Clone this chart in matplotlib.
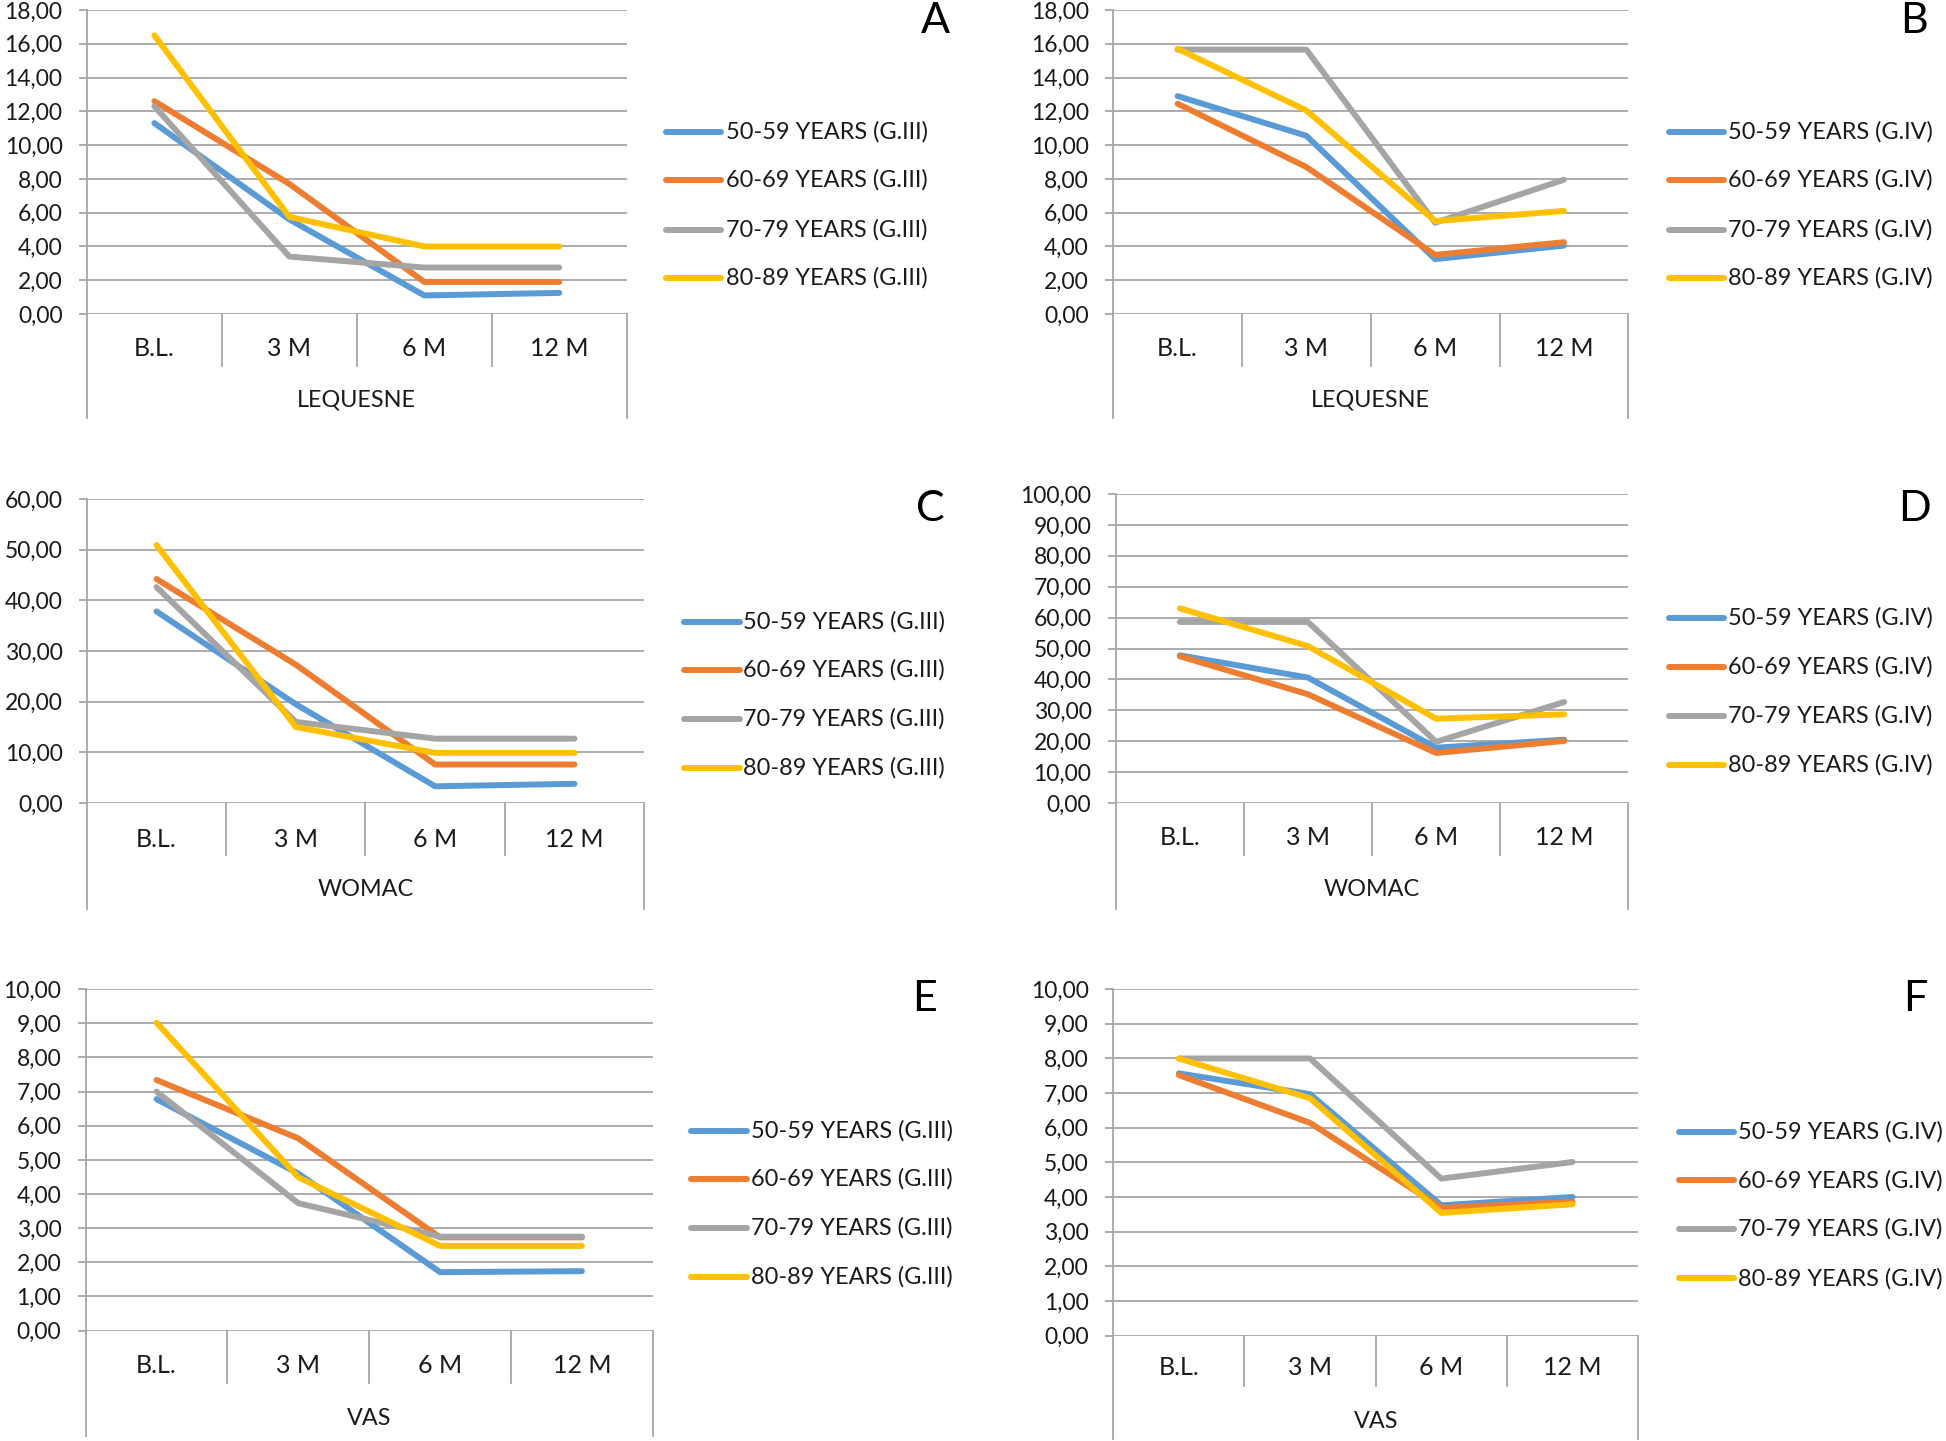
import matplotlib
matplotlib.use("Agg")
import matplotlib.pyplot as plt
from matplotlib.lines import Line2D
from matplotlib.ticker import FuncFormatter, MultipleLocator

plt.rcParams['font.family'] = ['Lato', 'DejaVu Sans']

categories = ["B.L.", "3 M", "6 M", "12 M"]
groups_iii = ["50-59 YEARS (G.III)", "60-69 YEARS (G.III)", "70-79 YEARS (G.III)", "80-89 YEARS (G.III)"]
groups_iv = ["50-59 YEARS (G.IV)", "60-69 YEARS (G.IV)", "70-79 YEARS (G.IV)", "80-89 YEARS (G.IV)"]
colors = ["#5B9BD5", "#ED7D31", "#A5A5A5", "#FFC000"]

# Panel A: LEQUESNE G.III
lequesne_iii_50 = [11.3, 5.6, 1.1, 1.25]
lequesne_iii_60 = [12.6, 7.7, 1.9, 1.9]
lequesne_iii_70 = [12.3, 3.4, 2.75, 2.75]
lequesne_iii_80 = [16.5, 5.75, 4.0, 4.0]
# Panel B: LEQUESNE G.IV
lequesne_iv_50 = [12.9, 10.55, 3.25, 4.05]
lequesne_iv_60 = [12.45, 8.7, 3.5, 4.25]
lequesne_iv_70 = [15.65, 15.65, 5.4, 7.95]
lequesne_iv_80 = [15.7, 12.05, 5.5, 6.1]
# Panel C: WOMAC G.III
womac_iii_50 = [37.8, 19.5, 3.3, 3.8]
womac_iii_60 = [44.2, 27.3, 7.6, 7.6]
womac_iii_70 = [42.6, 16.0, 12.7, 12.7]
womac_iii_80 = [50.9, 15.0, 9.9, 9.9]
# Panel D: WOMAC G.IV
womac_iv_50 = [47.8, 40.6, 17.9, 20.5]
womac_iv_60 = [47.5, 35.2, 16.2, 20.1]
womac_iv_70 = [58.6, 58.6, 19.8, 32.7]
womac_iv_80 = [63.0, 50.8, 27.3, 28.7]
# Panel E: VAS G.III
vas_iii_50 = [6.78, 4.6, 1.71, 1.74]
vas_iii_60 = [7.34, 5.63, 2.73, 2.73]
vas_iii_70 = [7.0, 3.73, 2.75, 2.75]
vas_iii_80 = [9.02, 4.49, 2.48, 2.48]
# Panel F: VAS G.IV
vas_iv_50 = [7.57, 6.97, 3.76, 4.0]
vas_iv_60 = [7.52, 6.14, 3.69, 3.86]
vas_iv_70 = [8.0, 8.0, 4.53, 5.01]
vas_iv_80 = [8.0, 6.85, 3.54, 3.79]

W, H = 1568.0, 1161.0  # layout measured in this pixel space

fig = plt.figure(figsize=(19.46, 14.41), dpi=100)

GRID = "#A6A6A6"
TXT = "#1a1a1a"
TICKFS = 16.5
CATFS = 18
GRPFS = 16.8
LEGFS = 16.9

panels = [
    dict(letter="A", title="LEQUESNE", series=[lequesne_iii_50, lequesne_iii_60, lequesne_iii_70, lequesne_iii_80],
         labels=groups_iii, ymax=18, step=2, L=70, R=505, T=8, B=253, div=295, lab=281, grp=322, out=337,
         leg=(537, 581, 585, [106, 145, 185, 224]), let=(754, 17)),
    dict(letter="B", title="LEQUESNE", series=[lequesne_iv_50, lequesne_iv_60, lequesne_iv_70, lequesne_iv_80],
         labels=groups_iv, ymax=18, step=2, L=897, R=1312, T=8, B=253, div=295, lab=281, grp=322, out=337,
         leg=(1345, 1389, 1392, [106, 145, 185, 224]), let=(1542, 17)),
    dict(letter="C", title="WOMAC", series=[womac_iii_50, womac_iii_60, womac_iii_70, womac_iii_80],
         labels=groups_iii, ymax=60, step=10, L=70, R=519, T=402, B=647, div=689, lab=676, grp=717, out=732,
         leg=(551, 596, 599, [501, 540, 579, 619]), let=(750, 410)),
    dict(letter="D", title="WOMAC", series=[womac_iv_50, womac_iv_60, womac_iv_70, womac_iv_80],
         labels=groups_iv, ymax=100, step=10, L=899, R=1312, T=398, B=647, div=689, lab=675, grp=717, out=732,
         leg=(1345, 1389, 1392, [498, 537, 577, 616]), let=(1543, 410)),
    dict(letter="E", title="VAS", series=[vas_iii_50, vas_iii_60, vas_iii_70, vas_iii_80],
         labels=groups_iii, ymax=10, step=1, L=69, R=526, T=797, B=1072, div=1114, lab=1100, grp=1143, out=1157,
         leg=(557, 602, 605, [911, 950, 989, 1029]), let=(745, 805)),
    dict(letter="F", title="VAS", series=[vas_iv_50, vas_iv_60, vas_iv_70, vas_iv_80],
         labels=groups_iv, ymax=10, step=1, L=897, R=1320, T=797, B=1076, div=1117, lab=1102, grp=1145, out=1159,
         leg=(1353, 1397, 1400, [912, 951, 990, 1030]), let=(1543, 805)),
]

fmt = FuncFormatter(lambda v, p: f"{v:.2f}".replace(".", ","))

for p in panels:
    L, R, T, B = p["L"], p["R"], p["T"], p["B"]
    ax = fig.add_axes([L / W, 1 - B / H, (R - L) / W, (B - T) / H])
    x = list(range(len(categories)))
    for s, c in zip(p["series"], colors):
        ax.plot(x, s, color=c, lw=4.3, solid_capstyle="round", solid_joinstyle="round", zorder=3)
    ax.set_xlim(-0.5, len(categories) - 0.5)
    ax.set_ylim(0, p["ymax"])
    ax.yaxis.set_major_locator(MultipleLocator(p["step"]))
    ax.yaxis.set_major_formatter(fmt)
    ax.grid(axis="y", color=GRID, lw=1.3, zorder=0)
    ax.set_axisbelow(True)
    for sp in ["top", "right", "bottom"]:
        ax.spines[sp].set_visible(False)
    ax.spines["left"].set_color(GRID)
    ax.spines["left"].set_linewidth(1.3)
    ax.tick_params(axis="y", length=5.5, width=1.3, color=GRID, pad=12, labelsize=TICKFS, labelcolor=TXT)
    ax.set_xticks([])
    ax.set_facecolor("none")
    h = (B - T)
    trans = ax.get_xaxis_transform()
    for xv in [0.5, 1.5, 2.5]:
        ax.add_line(Line2D([xv, xv], [0, -(p["div"] - B) / h], transform=trans, color=GRID, lw=1.3, clip_on=False))
    for xv in [-0.5, len(categories) - 0.5]:
        ax.add_line(Line2D([xv, xv], [0, -(p["out"] - B) / h], transform=trans, color=GRID, lw=1.3, clip_on=False))
    for xv, cat in zip(x, categories):
        ax.text(xv, -(p["lab"] - B) / h, cat, transform=trans, ha="center", va="center", fontsize=CATFS, color=TXT)
    ax.text(0.5, -(p["grp"] - B) / h, p["title"], transform=ax.transAxes, ha="center", va="center",
            fontsize=GRPFS, color=TXT)
    x0, x1, xt, ys = p["leg"]
    for yy, c, lab in zip(ys, colors, p["labels"]):
        fig.add_artist(Line2D([x0 / W, x1 / W], [1 - yy / H, 1 - yy / H], color=c, lw=4.3, solid_capstyle="round"))
        fig.text(xt / W, 1 - yy / H, lab, ha="left", va="center", fontsize=LEGFS, color=TXT)
    lx, ly = p["let"]
    fig.text(lx / W, 1 - ly / H, p["letter"], ha="center", va="center", fontsize=31, color="black")

fig.savefig("out.png", dpi=100, facecolor="white")
